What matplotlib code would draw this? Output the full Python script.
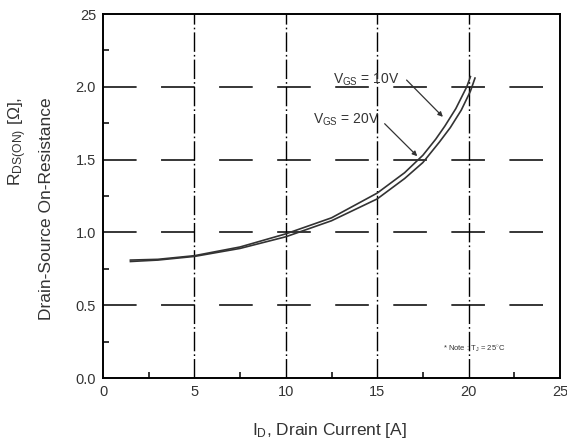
import matplotlib
matplotlib.use("Agg")
import matplotlib.pyplot as plt
from matplotlib.ticker import MultipleLocator

# Drain current [A] and on-resistance [ohm]
id_10v = [1.5, 3.0, 5.0, 7.5, 10.0, 12.5, 15.0, 16.5, 17.5, 18.2, 18.7, 19.3, 19.9, 20.1]
rds_10v = [0.81, 0.815, 0.84, 0.90, 0.99, 1.10, 1.27, 1.41, 1.53, 1.64, 1.73, 1.85, 2.00, 2.07]

id_20v = [1.5, 3.0, 5.0, 7.5, 10.0, 12.5, 15.0, 16.5, 17.5, 18.4, 19.0, 19.6, 20.1, 20.35]
rds_20v = [0.80, 0.81, 0.835, 0.89, 0.97, 1.08, 1.23, 1.37, 1.48, 1.62, 1.72, 1.84, 1.97, 2.06]

x_ticks = [0, 5, 10, 15, 20, 25]
y_ticks = [0.0, 0.5, 1.0, 1.5, 2.0, 2.5]
y_tick_labels = ["0.0", "0.5", "1.0", "1.5", "2.0", "25"]

plt.rcParams["font.family"] = ["Liberation Sans", "DejaVu Sans"]
plt.rcParams["mathtext.fontset"] = "custom"
plt.rcParams["mathtext.rm"] = "Liberation Sans"
plt.rcParams["mathtext.it"] = "Liberation Sans"

W, H = 567, 443
fig = plt.figure(figsize=(W / 100, H / 100), dpi=100)
ax = fig.add_axes([103 / W, 1 - 378 / H, (560 - 103) / W, (378 - 14) / H])

ax.set_xlim(0, 25)
ax.set_ylim(0, 2.5)

# grid: dashed horizontals, dash-dot verticals
for y in y_ticks[1:-1]:
    ax.axhline(y, color="black", lw=1.1, dashes=(22, 16), dash_capstyle="butt")
for x in x_ticks[1:-1]:
    ax.axvline(x, color="black", lw=1.0, dashes=(14, 2.2, 1.2, 2.2))

ax.plot(id_10v, rds_10v, color="#333333", lw=1.2)
ax.plot(id_20v, rds_20v, color="#333333", lw=1.2)

ax.set_xticks(x_ticks)
ax.set_yticks(y_ticks)
ax.set_yticklabels(y_tick_labels)
ax.xaxis.set_minor_locator(MultipleLocator(2.5))
ax.yaxis.set_minor_locator(MultipleLocator(0.25))
ax.tick_params(which="both", direction="in", top=False, right=False,
               labelsize=10.5, labelcolor="#333333", width=1.1)
ax.tick_params(which="major", length=0, pad=5)
ax.tick_params(which="minor", length=4)
for s in ax.spines.values():
    s.set_linewidth(1.4)

ax.annotate("", xy=(18.7, 1.78), xytext=(16.5, 2.06),
            arrowprops=dict(arrowstyle="-|>", color="#333333", lw=0.9,
                            mutation_scale=7))
ax.annotate("", xy=(17.3, 1.51), xytext=(15.3, 1.76),
            arrowprops=dict(arrowstyle="-|>", color="#333333", lw=0.9,
                            mutation_scale=7))
ax.text(12.6, 2.05, r"V$_{\mathrm{GS}}$ = 10V", fontsize=10, color="#333333",
        ha="left", va="center")
ax.text(11.5, 1.77, r"V$_{\mathrm{GS}}$ = 20V", fontsize=10, color="#333333",
        ha="left", va="center")
ax.text(18.6, 0.2, r"* Note : T$_{\mathrm{J}}$ = 25$^{\circ}$C", fontsize=5.5,
        color="#333333", ha="left", va="center")

fig.text(330 / W, 1 - 430 / H, r"I$_{\mathrm{D}}$, Drain Current [A]",
         fontsize=12.5, color="#333333", ha="center", va="center")
fig.text(18 / W, 1 - 97 / H, r"R$_{\mathrm{DS(ON)}}$ [$\Omega$],", rotation=90,
         fontsize=12.5, color="#333333", ha="center", va="top")
fig.text(47 / W, 1 - 97 / H, "Drain-Source On-Resistance", rotation=90,
         fontsize=12.5, color="#333333", ha="center", va="top")

fig.savefig("out.png", dpi=100)
